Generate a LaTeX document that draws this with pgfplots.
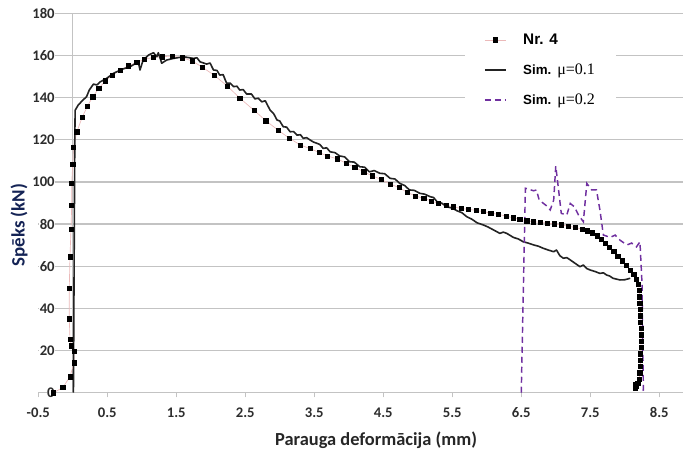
\documentclass[border=0pt]{standalone}
\usepackage{pgfplots}
\pgfplotsset{compat=1.18}
\usepackage{fontspec}
\setmainfont{Carlito}
\newfontfamily\arialf{Liberation Sans}
\newfontfamily\tnr{Liberation Serif}

\definecolor{gridg}{RGB}{195,195,195}
\definecolor{tickc}{RGB}{45,45,45}
\definecolor{ylabc}{RGB}{20,35,85}
\definecolor{simpurple}{RGB}{112,48,160}
\definecolor{exppink}{RGB}{235,185,185}
\definecolor{simblack}{RGB}{35,35,35}

\begin{document}
\begin{tikzpicture}
\begin{axis}[
    x=51.75pt, y=1.581pt,
    xmin=-0.5, xmax=8.844, ymin=0, ymax=180,
    clip=false,
    axis x line*=bottom, axis y line*=left,
    y axis line style={draw=none},
    x axis line style={gridg, line width=0.9pt},
    xtick={-0.5,0.5,1.5,2.5,3.5,4.5,5.5,6.5,7.5,8.5},
    xticklabels={-0.5,0.5,1.5,2.5,3.5,4.5,5.5,6.5,7.5,8.5},
    ytick={0,20,40,60,80,100,120,140,160,180},
    yticklabels={0,20,40,60,80,100,120,140,160,180},
    tick align=outside,
    major tick length=3.5pt,
    xtick style={gridg, line width=0.9pt},
    ytick style={draw=none},
    ymajorgrids,
    grid style={gridg, line width=0.9pt},
    xticklabel style={font=\fontsize{11}{13}\selectfont\bfseries, text=tickc, anchor=base, yshift=-15pt},
    yticklabel style={font=\fontsize{11}{13}\selectfont\bfseries, text=tickc, anchor=east,
                      fill=white, inner sep=0.5pt, xshift=16.5pt},
    xlabel={Parauga deformācija (mm)},
    xlabel style={font=\fontsize{13.8}{15}\selectfont\bfseries, text=black!85,
                  at={(axis description cs:0.524,-0.1244)}, anchor=center},
    ylabel={Spēks (kN)},
    ylabel style={font=\fontsize{14.2}{16}\selectfont\bfseries, text=ylabc,
                  at={(axis description cs:-0.0298,0.442)}, anchor=center},
    legend style={at={(axis cs:5.685,176.8)}, anchor=north west, draw=none, fill=white,
                  inner xsep=14pt, inner ysep=8pt, row sep=9pt,
                  /tikz/every odd column/.append style={column sep=10pt}},
    legend cell align=left,
    legend image post style={xscale=0.95},
]
% axis line at x = 0
\draw[gridg, line width=0.9pt] (axis cs:0,0) -- (axis cs:0,180);

% measured specimen Nr. 4
\addplot[exppink, line width=0.5pt, mark=square*, mark size=1.6pt,
         mark options={draw=black, fill=black, solid}] coordinates {
  (-0.28,0) (-0.145,2.4) (-0.04,7.6) (0.02,14.2) (0.02,19.5) (-0.015,22.2)
  (-0.04,25.5) (-0.05,35.1) (-0.05,49.7) (-0.04,64.5) (-0.025,77.6) (-0.015,89)
  (-0.015,99.3) (0.0,108.3) (0.01,116.4) (0.06,123.8) (0.135,130.5) (0.21,135.7)
  (0.29,140.4) (0.38,144.4) (0.47,147.9) (0.57,150.6) (0.685,153.1) (0.81,155.1)
  (0.93,156.7) (1.04,158.2) (1.17,159.1) (1.30,159.4) (1.44,159.7) (1.59,158.9)
  (1.73,157.4) (1.88,154.4) (2.05,150.6) (2.24,145.5) (2.42,139.8) (2.63,133.9)
  (2.80,129.0) (2.975,124.6) (3.14,120.7) (3.30,117.5) (3.44,115.8) (3.57,114.0)
  (3.69,112.3) (3.83,111.0) (3.96,108.9) (4.09,106.9) (4.22,104.8) (4.34,102.9)
  (4.47,101.2) (4.60,99.0) (4.73,97.3) (4.85,95.0) (4.97,93.3) (5.09,92.2)
  (5.20,90.9) (5.30,89.8) (5.41,88.9) (5.52,88.2) (5.63,87.4) (5.73,87.0)
  (5.85,86.5) (5.95,85.9) (6.06,85.2) (6.17,84.6) (6.28,83.8) (6.38,83.0)
  (6.48,82.2) (6.58,81.6) (6.68,81.1) (6.78,80.8) (6.88,80.5) (6.98,80.1)
  (7.08,79.6) (7.18,79.0) (7.28,78.4) (7.38,77.6) (7.46,76.8) (7.53,75.8)
  (7.60,74.4) (7.66,72.8) (7.72,71.0) (7.78,69.0) (7.84,67.0) (7.90,64.8)
  (7.96,62.6) (8.02,60.4) (8.08,58.2) (8.13,56.0) (8.17,53.8) (8.20,51.5)
  (8.21,48.5) (8.215,45.5) (8.22,42.5) (8.225,39.5) (8.23,36.5) (8.23,33.5)
  (8.235,30.5) (8.235,27.5) (8.235,24.5) (8.235,21.5) (8.23,18.5) (8.23,15.5)
  (8.225,12.5) (8.22,9.5) (8.21,6.5) (8.19,4.5) (8.17,3.0) (8.15,2.0) (8.16,4.0)
};
\addlegendentry{{\arialf\bfseries\fontsize{11.5}{13}\selectfont Nr. 4}}

% simulation mu = 0.1
\addplot[simblack, line width=1.2pt, line join=round] coordinates {
  (0.01,0) (0.02,60) (0.03,120) (0.035,134) (0.08,136.5) (0.15,138.9) (0.20,140.4)
  (0.24,143.6) (0.30,146.4) (0.35,146.0) (0.40,147.5) (0.49,149.1) (0.59,151.5)
  (0.71,153.4) (0.83,154.6) (0.95,157.0) (0.975,153.1) (1.02,157.8) (1.10,160.2)
  (1.17,161.3) (1.22,159.4) (1.24,161.3) (1.29,156.3) (1.36,157.8) (1.46,158.6)
  (1.555,159.1) (1.60,159.4) (1.75,158.6) (1.80,158.9) (1.845,157.0) (1.94,155.9)
  (1.99,156.4) (2.04,153.1) (2.09,152.9) (2.13,150.7) (2.18,150.9) (2.23,146.8)
  (2.28,146.9) (2.33,145.2) (2.38,145.4) (2.42,143.6) (2.47,143.8) (2.52,141.7)
  (2.59,141.7) (2.64,139.4) (2.69,139.7) (2.74,138.0) (2.79,138.5) (2.86,134.1)
  (2.91,132.5) (2.96,129.4) (3.00,128.9) (3.05,126.2) (3.10,126.0) (3.15,123.8)
  (3.20,123.9) (3.25,122.2) (3.30,122.4) (3.34,120.7) (3.39,121.0) (3.44,119.9)
  (3.49,118.9) (3.54,118.3) (3.58,117.8) (3.63,115.9) (3.68,116.2) (3.73,114.3)
  (3.80,113.9) (3.87,112.3) (3.94,111.9) (4.01,109.6) (4.08,109.4) (4.16,107.2)
  (4.23,107.0) (4.30,104.8) (4.37,105.4) (4.45,104.1) (4.52,103.9) (4.60,101.7)
  (4.67,101.4) (4.74,99.3) (4.81,98.3) (4.88,96.2) (4.95,96.0) (5.03,94.6)
  (5.10,94.2) (5.18,93.0) (5.23,92.6) (5.28,90.6) (5.35,89.9) (5.42,88.2)
  (5.50,87.6) (5.57,86.3) (5.64,85.4) (5.71,83.5) (5.78,82.4) (5.86,80.6)
  (5.95,79.6) (6.02,78.6) (6.10,77.2) (6.19,75.6) (6.24,76.2) (6.29,75.6)
  (6.385,73.7) (6.46,72.9) (6.53,71.6) (6.60,71.0) (6.68,70.1) (6.75,69.5)
  (6.82,68.5) (6.90,67.6) (6.97,66.9) (7.01,67.7) (7.06,65.0) (7.11,63.8)
  (7.16,64.1) (7.21,63.0) (7.28,61.4) (7.35,59.8) (7.40,60.6) (7.45,58.9)
  (7.50,58.2) (7.57,57.5) (7.64,56.6) (7.69,56.9) (7.74,55.8) (7.78,55.4)
  (7.83,54.3) (7.93,53.5) (8.00,53.6) (8.08,54.3)
};
\addlegendentry{{\arialf\bfseries\fontsize{10}{12}\selectfont Sim.}\ \ {\tnr\fontsize{12}{13}\selectfont μ=0.1}}

% simulation mu = 0.2
\addplot[simpurple, line width=1.1pt, dash pattern=on 4.5pt off 3pt] coordinates {
  (6.50,0) (6.56,97.0) (6.68,95.8) (6.72,96.2) (6.76,91.4) (6.87,88.6) (6.92,86.7)
  (6.97,91.4) (7.00,107.5) (7.03,99.3) (7.08,85.1) (7.16,84.3) (7.21,89.8)
  (7.27,88.2) (7.33,84.3) (7.40,81.1) (7.45,99.3) (7.52,96.2) (7.59,96.2)
  (7.64,86.7) (7.69,74.8) (7.79,73.7) (7.86,74.8) (7.93,72.4) (8.03,70.1)
  (8.10,71.0) (8.17,69.2) (8.22,71.6) (8.25,51.9) (8.27,1.3) (8.22,0.5)
};
\addlegendentry{{\arialf\bfseries\fontsize{10}{12}\selectfont Sim.}\ \ {\tnr\fontsize{12}{13}\selectfont μ=0.2}}

\coordinate (bl) at (axis cs:-1.054,-28.6);
\coordinate (tr) at (axis cs:8.844,186.3);
\end{axis}
\pgfresetboundingbox
\path[use as bounding box] (bl) rectangle (tr);
\end{tikzpicture}
\end{document}
